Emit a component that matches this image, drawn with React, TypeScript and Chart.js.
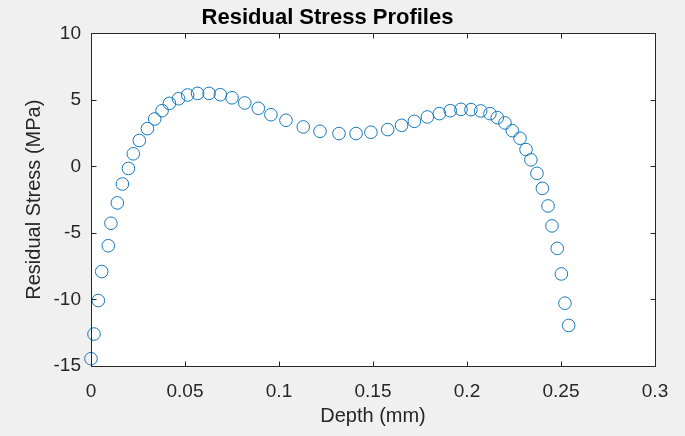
import React, { useEffect, useRef } from "react";
import { Chart, registerables } from "chart.js";

Chart.register(...registerables);

// Measured residual stress versus depth below the surface
const depthMm = [
  0.0, 0.0016, 0.0039, 0.0057, 0.0092, 0.0106, 0.014, 0.0167, 0.0199, 0.0225,
  0.0257, 0.03, 0.0339, 0.0378, 0.0417, 0.0466, 0.0514, 0.0567, 0.0628, 0.0688,
  0.075, 0.0818, 0.089, 0.0957, 0.1037, 0.1129, 0.1218, 0.1319, 0.141, 0.1489,
  0.1578, 0.1652, 0.172, 0.1789, 0.1853, 0.1911, 0.1968, 0.2021, 0.2073, 0.2122,
  0.2161, 0.2202, 0.2241, 0.2282, 0.2314, 0.234, 0.2372, 0.2401, 0.2431, 0.2452,
  0.248, 0.2502, 0.2521, 0.2541,
];
const stressMPa = [
  -14.45, -12.6, -10.08, -7.9, -5.96, -4.27, -2.74, -1.32, -0.15, 0.95,
  1.95, 2.84, 3.57, 4.19, 4.74, 5.09, 5.37, 5.49, 5.49, 5.39,
  5.16, 4.77, 4.37, 3.89, 3.47, 2.97, 2.64, 2.47, 2.47, 2.57,
  2.77, 3.09, 3.39, 3.72, 3.97, 4.19, 4.29, 4.27, 4.17, 3.97,
  3.67, 3.27, 2.69, 2.12, 1.27, 0.5, -0.52, -1.65, -2.97, -4.47,
  -6.16, -8.08, -10.28, -11.95,
];

const xTickValues = [0, 0.05, 0.1, 0.15, 0.2, 0.25, 0.3];
const xTickLabels = ["0", "0.05", "0.1", "0.15", "0.2", "0.25", "0.3"];
const yTickValues = [-15, -10, -5, 0, 5, 10];
const yTickLabels = ["-15", "-10", "-5", "0", "5", "10"];

const FONT = "'Liberation Sans', Arial, Helvetica, sans-serif";
const TEXT = "#262626";

// White axes area, dark box and inward tick marks on all four sides
const axesBox = {
  id: "axesBox",
  beforeDraw(chart: any) {
    const { ctx, chartArea: a } = chart;
    ctx.save();
    ctx.fillStyle = "#F0F0F0";
    ctx.fillRect(0, 0, chart.width, chart.height);
    ctx.fillStyle = "#ffffff";
    ctx.fillRect(a.left, a.top, a.right - a.left, a.bottom - a.top);
    ctx.restore();
  },
  afterDatasetsDraw(chart: any) {
    const { ctx, chartArea: a, scales } = chart;
    const len = 5;
    ctx.save();
    ctx.strokeStyle = TEXT;
    ctx.lineWidth = 1;
    ctx.beginPath();
    const L = Math.round(a.left) + 0.5;
    const R = Math.round(a.right) + 0.5;
    const T = Math.round(a.top) + 0.5;
    const B = Math.round(a.bottom) + 0.5;
    ctx.rect(L, T, R - L, B - T);
    scales.x.ticks.forEach((t: any) => {
      const px = Math.round(scales.x.getPixelForValue(t.value)) + 0.5;
      ctx.moveTo(px, B);
      ctx.lineTo(px, B - len);
      ctx.moveTo(px, T);
      ctx.lineTo(px, T + len);
    });
    scales.y.ticks.forEach((t: any) => {
      const py = Math.round(scales.y.getPixelForValue(t.value)) + 0.5;
      ctx.moveTo(L, py);
      ctx.lineTo(L + len, py);
      ctx.moveTo(R, py);
      ctx.lineTo(R - len, py);
    });
    ctx.stroke();
    ctx.restore();
  },
};

export default function App() {
  const canvasRef = useRef<HTMLCanvasElement | null>(null);

  useEffect(() => {
    document.body.style.margin = "0";
    const canvas = canvasRef.current;
    if (!canvas) return;
    const points = depthMm.map((d, i) => ({ x: d, y: stressMPa[i] }));
    const chart = new Chart(canvas, {
      type: "scatter",
      data: {
        datasets: [
          {
            data: points,
            showLine: false,
            pointStyle: "circle",
            pointRadius: 6.3,
            pointHoverRadius: 6.3,
            pointBorderWidth: 1,
            pointBorderColor: "#1679BD",
            pointBackgroundColor: "rgba(0,0,0,0)",
            clip: false as any,
          },
        ],
      },
      options: {
        animation: false,
        responsive: true,
        maintainAspectRatio: false,
        layout: { padding: { left: 0, right: 30, top: 0, bottom: 0 } },
        plugins: {
          legend: { display: false },
          tooltip: { enabled: false },
          title: {
            display: true,
            text: "Residual Stress Profiles",
            color: "#000000",
            font: { family: FONT, size: 22, weight: "bold" },
            padding: { top: 5, bottom: 2 },
          },
        },
        scales: {
          x: {
            type: "linear",
            min: 0,
            max: 0.3,
            afterBuildTicks: (scale: any) => {
              scale.ticks = xTickValues.map((v) => ({ value: v }));
            },
            afterFit: (scale: any) => {
              scale.height = 70;
            },
            grid: { display: false, drawTicks: false },
            border: { display: false },
            ticks: {
              color: TEXT,
              font: { family: FONT, size: 19 },
              padding: 14,
              maxRotation: 0,
              autoSkip: false,
              callback: (_v: any, i: number) => xTickLabels[i],
            },
            title: {
              display: true,
              text: "Depth (mm)",
              color: TEXT,
              font: { family: FONT, size: 20 },
              padding: { top: 0, bottom: 8 },
            },
          },
          y: {
            type: "linear",
            min: -15,
            max: 10,
            afterBuildTicks: (scale: any) => {
              scale.ticks = yTickValues.map((v) => ({ value: v }));
            },
            afterFit: (scale: any) => {
              scale.width = 91;
            },
            grid: { display: false, drawTicks: false },
            border: { display: false },
            ticks: {
              color: TEXT,
              font: { family: FONT, size: 19 },
              padding: 10,
              autoSkip: false,
              callback: (_v: any, i: number) => yTickLabels[i],
            },
            title: {
              display: true,
              text: "Residual Stress (MPa)",
              color: TEXT,
              font: { family: FONT, size: 20 },
              padding: { top: 22, bottom: 0 },
            },
          },
        },
      },
      plugins: [axesBox],
    });
    return () => chart.destroy();
  }, []);

  return (
    <div style={{ width: 685, height: 436, background: "#F0F0F0", position: "relative" }}>
      <canvas ref={canvasRef} />
    </div>
  );
}
